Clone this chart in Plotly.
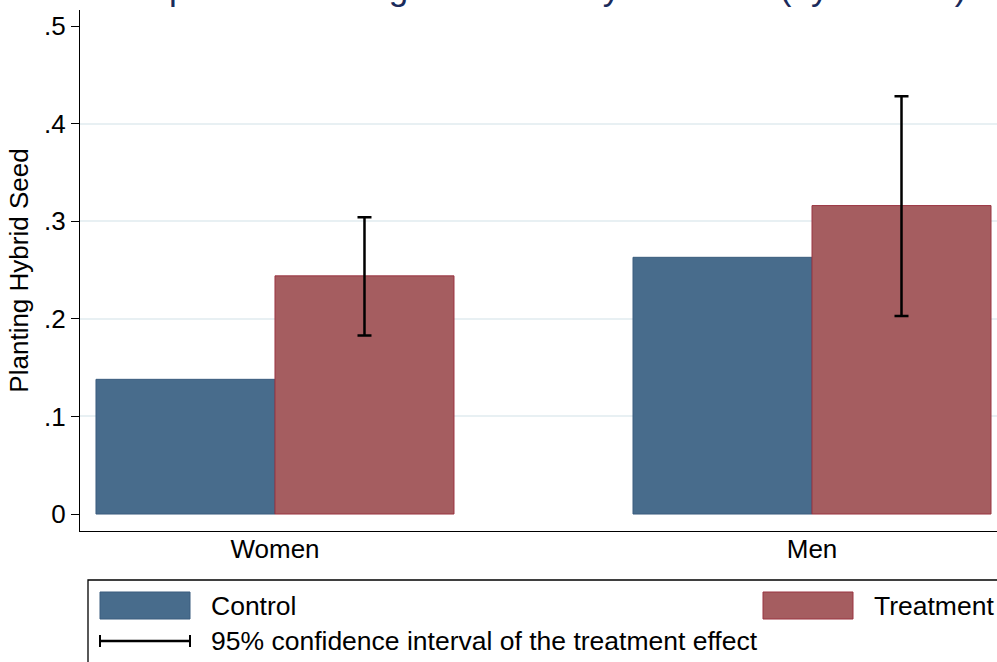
import plotly.graph_objects as go

# ---- data ----
groups = ["Women", "Men"]
control = [0.138, 0.263]
treatment = [0.244, 0.316]
ci_low = [0.183, 0.203]
ci_high = [0.304, 0.428]
ytick_vals = [0, 0.1, 0.2, 0.3, 0.4, 0.5]
ytick_text = ["0", ".1", ".2", ".3", ".4", ".5"]
grid_vals = [0.1, 0.2, 0.3, 0.4]
title_text = "Impact of Training on Use of Hybrid Seed (by Gender)"
legend_labels = ["Control", "Treatment", "95% confidence interval of the treatment effect"]

C_CTRL = "#486c8c"
C_CTRL_LINE = "#3a5c7e"
C_TRT = "#a55d60"
C_TRT_LINE = "#9a3440"
FONT = "Liberation Sans"

# plot area in pixels
FW, FH = 997, 662
L, T, R, B = 80, 10, 997, 531
PW, PH = R - L, B - T


def px(xp):
    return (xp - L) / PW


def py(yp):
    return (B - yp) / PH


fig = go.Figure()

fig.add_trace(go.Bar(
    x=groups, y=control, name=legend_labels[0],
    width=1 / 3, offset=-1 / 3,
    marker=dict(color=C_CTRL, line=dict(color=C_CTRL_LINE, width=1)),
    showlegend=False, xaxis="x", yaxis="y",
))
fig.add_trace(go.Bar(
    x=groups, y=treatment, name=legend_labels[1],
    width=1 / 3, offset=0,
    marker=dict(color=C_TRT, line=dict(color=C_TRT_LINE, width=1)),
    error_y=dict(type="data", symmetric=False,
                 array=[h - t for h, t in zip(ci_high, treatment)],
                 arrayminus=[t - l for l, t in zip(ci_low, treatment)],
                 color="black", thickness=2.5, width=7),
    showlegend=False, xaxis="x", yaxis="y",
))
# invisible trace on the grid axis
fig.add_trace(go.Scatter(x=[groups[0]], y=[grid_vals[0]], mode="markers",
                         marker=dict(opacity=0), showlegend=False, hoverinfo="skip",
                         xaxis="x", yaxis="y2"))

yrange = [-0.0174, 0.5164]

fig.update_layout(
    width=FW, height=FH,
    margin=dict(l=L, r=FW - R, t=T, b=FH - B, pad=0),
    paper_bgcolor="white", plot_bgcolor="white",
    barmode="overlay",
    font=dict(family=FONT, size=26, color="black"),
    xaxis=dict(
        type="category", range=[-0.3631, 1.3445],
        showline=True, linecolor="black", linewidth=1.3,
        ticks="", showgrid=False, zeroline=False,
        tickfont=dict(size=26, color="black"),
        ticklabelstandoff=-5,
    ),
    yaxis=dict(
        range=yrange, tickvals=ytick_vals, ticktext=ytick_text,
        showline=True, linecolor="black", linewidth=1.3,
        ticks="outside", ticklen=8, tickwidth=1.3, tickcolor="black",
        showgrid=False, zeroline=False,
        tickfont=dict(size=26, color="black"),
        title=dict(text="Planting Hybrid Seed", font=dict(size=26, color="black"), standoff=7),
    ),
    yaxis2=dict(
        range=yrange, overlaying="y", tickvals=grid_vals, showticklabels=False,
        showgrid=True, gridcolor="#e8f0f3", gridwidth=1.6, zeroline=False,
        showline=False, ticks="", layer="below traces",
    ),
)

# title (cut off at top edge in the reference)
fig.add_annotation(
    text=title_text, xref="paper", yref="paper",
    x=px(128), y=py(9), xanchor="left", yanchor="bottom",
    showarrow=False, font=dict(size=35, color="#1a2b5c", family=FONT),
)

# ---- legend, drawn manually ----
shapes = []
shapes.append(dict(type="rect", xref="paper", yref="paper",
                   x0=px(88), x1=px(1020), y0=py(580), y1=py(720),
                   line=dict(color="black", width=1.3), fillcolor="white", layer="above"))
shapes.append(dict(type="rect", xref="paper", yref="paper",
                   x0=px(100), x1=px(190), y0=py(592), y1=py(619),
                   line=dict(color=C_CTRL_LINE, width=1), fillcolor=C_CTRL, layer="above"))
shapes.append(dict(type="rect", xref="paper", yref="paper",
                   x0=px(763), x1=px(853), y0=py(592), y1=py(619),
                   line=dict(color=C_TRT_LINE, width=1), fillcolor=C_TRT, layer="above"))
shapes.append(dict(type="line", xref="paper", yref="paper",
                   x0=px(100), x1=px(190), y0=py(641), y1=py(641),
                   line=dict(color="black", width=2.5), layer="above"))
for xx in (100, 190):
    shapes.append(dict(type="line", xref="paper", yref="paper",
                       x0=px(xx), x1=px(xx), y0=py(635), y1=py(647),
                       line=dict(color="black", width=2), layer="above"))
fig.update_layout(shapes=shapes)

for txt, xx, yy in [(legend_labels[0], 209, 606), (legend_labels[1], 872, 606),
                    (legend_labels[2], 209, 641)]:
    fig.add_annotation(text=txt, xref="paper", yref="paper", x=px(xx), y=py(yy),
                       xanchor="left", yanchor="middle", showarrow=False,
                       font=dict(size=26.5, color="black", family=FONT))

fig.write_html("out.html", config={"displayModeBar": False},
               post_script="document.body.style.margin='0px';document.body.style.overflow='hidden';")
